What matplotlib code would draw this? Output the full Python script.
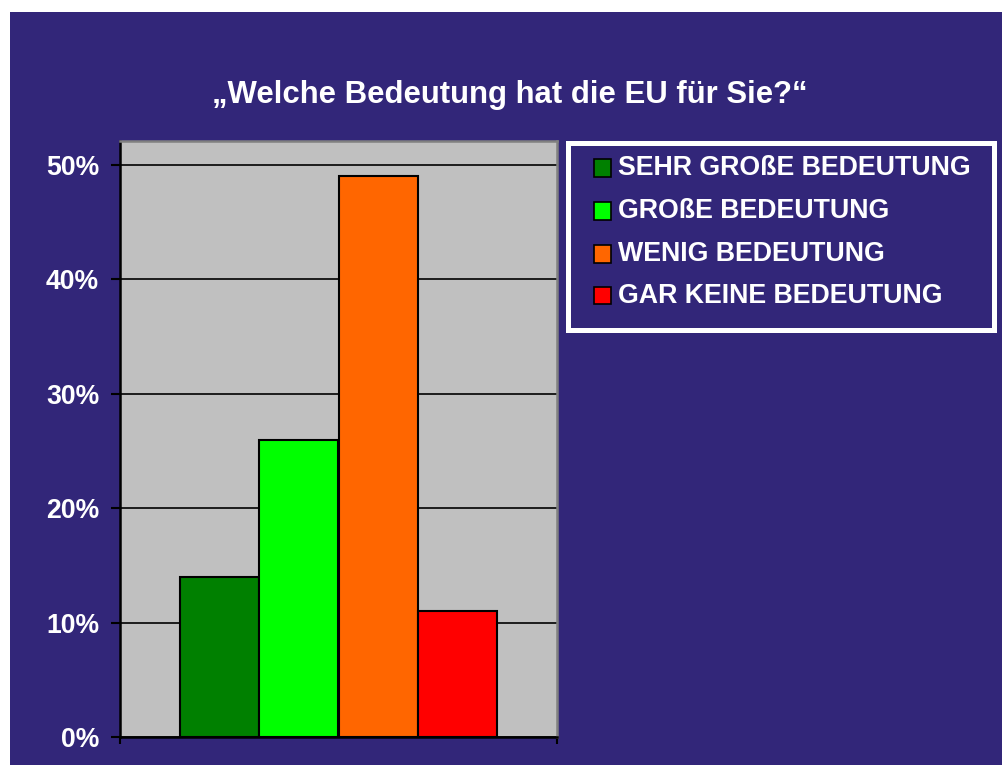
import matplotlib.pyplot as plt
from matplotlib.patches import Rectangle

# Data
categories = ["SEHR GROßE BEDEUTUNG", "GROßE BEDEUTUNG", "WENIG BEDEUTUNG", "GAR KEINE BEDEUTUNG"]
values = [14, 26, 49, 11]
colors = ["#008000", "#00FF00", "#FF6600", "#FF0000"]
yticks = [0, 10, 20, 30, 40, 50]
ytick_labels = ["0%", "10%", "20%", "30%", "40%", "50%"]

purple = "#322679"
W, H = 1002, 765

plt.rcParams['font.family'] = ['Liberation Sans', 'DejaVu Sans']
plt.rcParams['font.weight'] = 'bold'

fig = plt.figure(figsize=(W / 100, H / 100), dpi=100, facecolor="white")
# purple background panel, behind everything
fig.patches.append(Rectangle((10 / W, 0), 1, (H - 12) / H, transform=fig.transFigure,
                             facecolor=purple, edgecolor="none", zorder=-10))

ax = fig.add_axes([120 / W, (H - 737) / H, 437 / W, (737 - 141) / H])
ax.set_zorder(5)
ax.set_facecolor("#C0C0C0")

x = list(range(len(values)))
ax.bar(x, values, width=1.0, color=colors, edgecolor="black", linewidth=1.5, zorder=3)

ax.set_xlim(-1.25, 4.25)
ax.set_ylim(0, 52.1)
ax.set_yticks(yticks)
ax.set_yticklabels(ytick_labels, color="white", fontsize=19.2, fontweight="bold")
ax.set_xticks([-1.25, 4.25])
ax.set_xticklabels([])
ax.tick_params(axis="y", length=6.5, width=1.5, pad=8.5, direction="out")
ax.tick_params(axis="x", length=5, width=1.5, direction="out")
ax.yaxis.grid(True, color="black", linewidth=1.2, zorder=1)
ax.set_axisbelow(True)

for s in ["left", "bottom"]:
    ax.spines[s].set_color("black")
    ax.spines[s].set_linewidth(1.8)
for s in ["top", "right"]:
    ax.spines[s].set_color("#808080")
    ax.spines[s].set_linewidth(1.8)

fig.text(510 / W, 1 - 95 / H, "„Welche Bedeutung hat die EU für Sie?“",
         color="white", fontsize=22.4, fontweight="bold", ha="center", va="center")

# legend box
lx0, ly0, lx1, ly1 = 568, 143, 994, 330
fig.patches.append(Rectangle((lx0 / W, 1 - ly1 / H), (lx1 - lx0) / W, (ly1 - ly0) / H,
                             transform=fig.transFigure, facecolor=purple,
                             edgecolor="white", linewidth=3.6, zorder=2))
row_y = [168, 211, 254, 296]
for lab, col, ry in zip(categories, colors, row_y):
    fig.patches.append(Rectangle((594 / W, 1 - (ry + 8.5) / H), 17 / W, 17 / H,
                                 transform=fig.transFigure, facecolor=col,
                                 edgecolor="black", linewidth=1.2, zorder=3))
    fig.text(618 / W, 1 - ry / H, lab, color="white", fontsize=19.3,
             fontweight="bold", ha="left", va="center", zorder=4)

fig.savefig("out.png", dpi=100, facecolor=fig.get_facecolor())
